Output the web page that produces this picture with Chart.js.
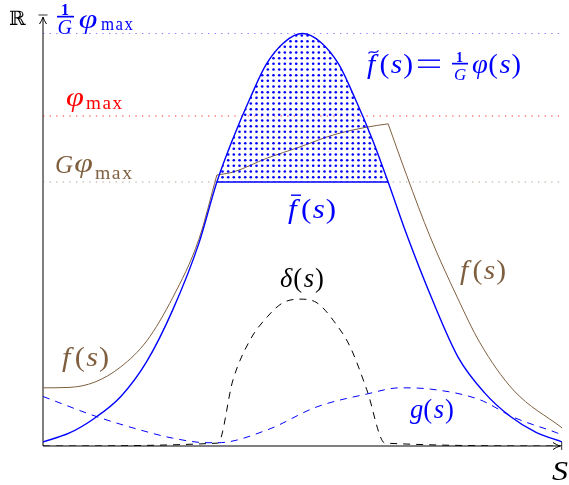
<!DOCTYPE html>
<html>
<head>
<meta charset="utf-8">
<script src="https://cdn.jsdelivr.net/npm/chart.js@4.4.1/dist/chart.umd.min.js"></script>
<style>
    html, body { margin: 0; padding: 0; background: #fff; }
    canvas { display: block; }
    .preload { position: absolute; left: -999px; top: 0; font-family: 'Liberation Serif'; }
</style>
</head>
<body>
<canvas id="chart" width="569" height="485"></canvas>
<div class="preload"><i>f(s) g δ φ</i> <b>1</b> max <span style="font-family:'DejaVu Serif'">ℝ</span></div>
<script>
// f~(s) = phi(s)/G  (blue bell)
const sPhi = [0, 0.5, 1, 1.5, 2, 2.5, 3, 3.35, 3.65, 4, 4.3, 4.65, 5, 5.35, 5.7, 6, 6.35, 6.65, 7, 7.5, 8, 8.5, 9, 9.5, 10];
const phiVals = [0.10, 0.31, 0.68, 1.20, 2.05, 3.30, 4.90, 6.40, 7.42, 8.46, 9.25, 9.79, 10.0, 9.79, 9.25, 8.46, 7.42, 6.40, 5.15, 3.55, 2.15, 1.30, 0.72, 0.33, 0.10];

// f-bar(s): flat cap
const sBar = [3.35, 6.65];
const barVals = [6.4, 6.4];

// f(s) brown, three pieces
const sFLeft = [0, 0.5, 1, 1.5, 2, 2.5, 3, 3.35];
const fLeftVals = [1.41, 1.42, 1.55, 1.92, 2.55, 3.60, 5.00, 6.57];
const sFMid = [3.35, 3.66, 4.32, 4.95, 5.59, 6.24, 6.65];
const fMidVals = [6.57, 6.64, 6.98, 7.25, 7.54, 7.73, 7.81];
const sFRight = [6.65, 7.01, 7.46, 7.98, 8.42, 9.06, 10];
const fRightVals = [7.81, 6.55, 5.07, 3.61, 2.50, 1.36, 0.44];

// g(s) blue dashed
const sG = [0, 1.04, 1.87, 2.5, 3.16, 3.37, 4.32, 5.28, 6.24, 6.88, 7.46, 8.42, 9.06, 9.9, 10];
const gVals = [1.20, 0.71, 0.39, 0.19, 0.08, 0.08, 0.39, 0.95, 1.26, 1.41, 1.38, 1.12, 0.70, 0.32, 0.27];

// delta(s) black dashed
const sDelta = [0, 3.37, 3.66, 3.99, 4.32, 4.62, 4.95, 5.28, 5.59, 5.92, 6.24, 6.59, 10];
const deltaVals = [0, 0.07, 1.60, 2.57, 3.13, 3.47, 3.56, 3.47, 3.05, 2.40, 1.36, 0.07, 0];

// dotted levels: phi_max/G, phi_max, G*phi_max
const levelVals = [10, 8, 6.4];

const BLUE = '#0000ff';
const RED = '#ff0000';
const BROWN = '#7f5f3f';
const SERIF = "'Liberation Serif', 'DejaVu Serif', serif";

const pts = (xs, ys) => xs.map((x, i) => ({ x: x, y: ys[i] }));

function dotPattern(color) {
    const c = document.createElement('canvas');
    c.width = 17; c.height = 17;
    const g = c.getContext('2d');
    g.fillStyle = color;
    [1.5, 7.2, 12.8].forEach(x => [1.5, 7.2, 12.8].forEach(y => {
        g.beginPath();
        g.arc(x, y, 1.3, 0, Math.PI * 2);
        g.fill();
    }));
    return g.createPattern(c, 'repeat');
}

function line(data, color, width, extra) {
    return Object.assign({
        data: data,
        borderColor: color,
        borderWidth: width,
        pointRadius: 0,
        fill: false,
        cubicInterpolationMode: 'monotone'
    }, extra || {});
}

// glyph helpers
function fontOf(size, italic, bold) {
    return (italic ? 'italic ' : '') + (bold ? 'bold ' : '') + size + 'px ' + SERIF;
}

// lay glyphs between ink x0 and x1, widening them a bit (CM is wider than Times)
function fit(ctx, x0, x1, y, glyphs, maxK) {
    maxK = maxK || 1.4;
    const ms = glyphs.map(g => {
        ctx.font = fontOf(g[1], g[2], g[4]);
        return ctx.measureText(g[0]);
    });
    const ws = ms.map(m => m.actualBoundingBoxLeft + m.actualBoundingBoxRight);
    const total = ws.reduce((a, b) => a + b, 0);
    let k = (x1 - x0 - 1.5 * (glyphs.length - 1)) / total;
    k = Math.max(0.85, Math.min(maxK, k));
    const gap = glyphs.length > 1 ? (x1 - x0 - total * k) / (glyphs.length - 1) : 0;
    let x = glyphs.length > 1 ? x0 : (x0 + x1 - total * k) / 2;
    glyphs.forEach((g, i) => {
        ctx.save();
        ctx.translate(x, y + (g[3] || 0));
        ctx.scale(k, 1);
        ctx.font = fontOf(g[1], g[2], g[4]);
        ctx.fillText(g[0], ms[i].actualBoundingBoxLeft, 0);
        ctx.restore();
        x += ws[i] * k + gap;
    });
}

function fOf(ch, size) {
    return [[ch, size, true], ['(', size, false], ['s', size, true], [')', size, false]];
}

const MAX = [['m', 18], ['a', 18], ['x', 18]];
const PHI = [['\u03C6', 27, true]];

function frac(ctx, cx, barY, barW, numSize, denSize, denBase, color) {
    ctx.fillStyle = color;
    ctx.font = fontOf(numSize, false, true);
    let m = ctx.measureText('1');
    ctx.fillText('1', cx - (m.actualBoundingBoxRight - m.actualBoundingBoxLeft) / 2, barY - 1.5);
    ctx.fillRect(cx - barW / 2, barY - 0.2, barW, 1.7);
    ctx.font = fontOf(denSize, true);
    m = ctx.measureText('G');
    ctx.fillText('G', cx - (m.actualBoundingBoxRight - m.actualBoundingBoxLeft) / 2, denBase);
}

function arrowHead(ctx, x, y, dir) {
    ctx.beginPath();
    if (dir === 'up') {
        ctx.moveTo(x - 3.5, y + 7);
        ctx.quadraticCurveTo(x - 0.8, y + 3, x, y);
        ctx.quadraticCurveTo(x + 0.8, y + 3, x + 3.5, y + 7);
    } else {
        ctx.moveTo(x - 7, y - 3.5);
        ctx.quadraticCurveTo(x - 3, y - 0.8, x, y);
        ctx.quadraticCurveTo(x - 3, y + 0.8, x - 7, y + 3.5);
    }
    ctx.stroke();
}

const axesPlugin = {
    id: 'axes',
    beforeDatasetsDraw(chart) {
        const ctx = chart.ctx;
        const a = chart.chartArea;
        ctx.save();
        ctx.strokeStyle = '#000';
        ctx.lineWidth = 1;
        ctx.beginPath();
        ctx.moveTo(a.left, a.bottom);
        ctx.lineTo(a.left, a.top + 0.5);
        ctx.moveTo(a.left, a.bottom);
        ctx.lineTo(a.right - 1, a.bottom);
        ctx.stroke();
        arrowHead(ctx, a.left, a.top, 'up');
        arrowHead(ctx, a.right - 2, a.bottom, 'right');
        ctx.lineWidth = 0.8;
        ctx.beginPath();
        ctx.moveTo(a.left - 4.5, a.top - 2);
        ctx.lineTo(a.left + 4.5, a.top - 2);
        ctx.moveTo(a.right - 0.3, a.bottom - 4);
        ctx.lineTo(a.right - 0.3, a.bottom + 4);
        ctx.stroke();
        ctx.restore();
    }
};

const labelsPlugin = {
    id: 'labels',
    afterDraw(chart) {
        const ctx = chart.ctx;
        ctx.save();
        ctx.textBaseline = 'alphabetic';

        // R
        ctx.fillStyle = '#000';
        ctx.font = "20px 'DejaVu Serif', serif";
        ctx.fillText('\u211D', 9, 25);

        // 1/G phi_max (blue, top)
        frac(ctx, 65.5, 16, 17, 16, 20, 34, BLUE);
        ctx.fillStyle = BLUE;
        fit(ctx, 77, 99, 28, PHI, 1.25);
        fit(ctx, 101, 133, 30, MAX);

        // phi_max (red)
        ctx.fillStyle = RED;
        fit(ctx, 66, 84, 106, PHI, 1.25);
        fit(ctx, 86, 122, 109, MAX);

        // G phi_max (brown)
        ctx.fillStyle = BROWN;
        fit(ctx, 56, 73, 173, [['G', 25, true]], 1.15);
        fit(ctx, 74, 93, 172, PHI, 1.25);
        fit(ctx, 95, 132, 179, MAX);

        // f~(s) = 1/G phi(s)
        ctx.fillStyle = BLUE;
        fit(ctx, 367, 412, 73, fOf('f', 27));
        ctx.strokeStyle = BLUE;
        ctx.lineWidth = 1.3;
        ctx.beginPath();
        ctx.moveTo(368.5, 53.5);
        ctx.bezierCurveTo(371, 49, 375, 55.5, 378.5, 50.5);
        ctx.stroke();
        ctx.fillRect(418, 59.5, 22, 1.4);
        ctx.fillRect(418, 66.5, 22, 1.4);
        frac(ctx, 460, 63, 16, 14, 17, 80, BLUE);
        fit(ctx, 472, 520, 73, fOf('\u03C6', 27));

        // f-bar(s)
        fit(ctx, 288, 335, 218, fOf('f', 27));
        ctx.fillRect(291, 194.5, 10, 1.4);

        // delta(s)
        ctx.fillStyle = '#000';
        fit(ctx, 280, 323, 287, fOf('\u03B4', 27));

        // f(s) brown
        ctx.fillStyle = BROWN;
        fit(ctx, 460, 505, 279, fOf('f', 27));
        fit(ctx, 62, 108, 366, fOf('f', 27));

        // g(s)
        ctx.fillStyle = BLUE;
        fit(ctx, 410, 453, 418, fOf('g', 27));

        // S
        ctx.fillStyle = '#000';
        fit(ctx, 552, 568, 480, [['S', 28, true]], 1.2);
        ctx.restore();
    }
};

const dotted = [1.3, 5.3];
const dashed = [7, 6];

function draw() {
    new Chart(document.getElementById('chart'), {
        type: 'line',
        data: {
            datasets: [
                line(pts(sPhi, phiVals), BLUE, 1.4, {
                    order: 1,
                    fill: { target: { value: 6.4 }, above: dotPattern(BLUE), below: 'rgba(0,0,0,0)' }
                }),
                line(pts(sBar, barVals), BLUE, 1.6, { order: 2 }),
                line(pts(sFLeft, fLeftVals), BROWN, 1, { order: 3 }),
                line(pts(sFMid, fMidVals), BROWN, 1, { order: 3 }),
                line(pts(sFRight, fRightVals), BROWN, 1, { order: 3 }),
                line(pts(sG, gVals), BLUE, 1, { order: 4, borderDash: dashed }),
                line(pts(sDelta, deltaVals), '#000', 1, { order: 4, borderDash: dashed }),
                line(pts([0, 10], [levelVals[0], levelVals[0]]), 'rgba(0,0,255,0.5)', 1.2, { order: 9, borderDash: dotted }),
                line(pts([0, 10], [levelVals[1], levelVals[1]]), 'rgba(255,0,0,0.8)', 1.1, { order: 9, borderDash: dotted }),
                line(pts([0, 10], [levelVals[2], levelVals[2]]), 'rgba(127,95,63,0.6)', 1.2, { order: 9, borderDash: dotted })
            ]
        },
        options: {
            responsive: false,
            animation: false,
            devicePixelRatio: 1,
            layout: { padding: { left: 43, right: 7, top: 17, bottom: 39 } },
            scales: {
                x: { type: 'linear', min: 0, max: 10, display: false },
                y: { type: 'linear', min: 0, max: 10.4, display: false }
            },
            plugins: { legend: { display: false }, tooltip: { enabled: false } }
        },
        plugins: [axesPlugin, labelsPlugin]
    });
}

Promise.all([
    document.fonts.load(fontOf(27, true)),
    document.fonts.load(fontOf(27, false)),
    document.fonts.load(fontOf(16, false, true)),
    document.fonts.load("20px 'DejaVu Serif'")
]).catch(() => {}).then(draw);
</script>
</body>
</html>
